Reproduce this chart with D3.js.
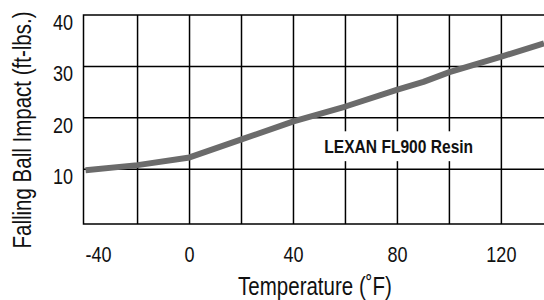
<!DOCTYPE html>
<html>
<head>
<meta charset="utf-8">
<script src="https://cdn.jsdelivr.net/npm/d3@7"></script>
<style>
  body { margin: 0; background: #fff; }
  text { font-family: "Liberation Sans", Arial, sans-serif; fill: #111; }
</style>
</head>
<body>
<script>
/*** data ***/
const temps   = [-40, -20, 0, 20, 40, 60, 80, 90, 100, 120, 136.4];   // deg F
const impacts = [9.8, 10.8, 12.3, 15.8, 19.3, 22.2, 25.5, 27.0, 28.9, 31.9, 34.5]; // ft-lbs
const xTicks = [-40, 0, 40, 80, 120];
const yTicks = [10, 20, 30, 40];
const xGrid = [-20, 0, 20, 40, 60, 80, 100, 120];
const yGrid = [10, 20, 30];
const seriesName = "LEXAN FL900 Resin";

/*** sizes ***/
const width = 544, height = 300;
const margin = { top: 15, right: 0, bottom: 76, left: 83.5 };
const squeeze = 0.82; // no narrow font installed, so squeeze Liberation Sans sideways

const x = d3.scaleLinear().domain([-40.8, 136.4]).range([margin.left, width - margin.right]);
const y = d3.scaleLinear().domain([-0.65, 40]).range([height - margin.bottom, margin.top]);

const svg = d3.select("body").append("svg")
  .attr("width", width)
  .attr("height", height);

/*** helper: condensed-looking text ***/
function label(parent, px, py, str, size, anchor, rot) {
  const g = parent.append("g")
    .attr("transform", `translate(${px},${py}) rotate(${rot || 0}) scale(${squeeze},1)`);
  return g.append("text")
    .attr("text-anchor", anchor || "middle")
    .attr("font-size", size)
    .text(str);
}

// grid lines
svg.append("g")
  .selectAll("line")
  .data(xGrid)
  .join("line")
  .attr("x1", d => x(d)).attr("x2", d => x(d))
  .attr("y1", y.range()[0]).attr("y2", y.range()[1])
  .attr("stroke", "#000").attr("stroke-width", 1.5);

svg.append("g")
  .selectAll("line")
  .data(yGrid)
  .join("line")
  .attr("x1", x.range()[0]).attr("x2", x.range()[1])
  .attr("y1", d => y(d)).attr("y2", d => y(d))
  .attr("stroke", "#000").attr("stroke-width", 1.5);

// frame (left, top, bottom)
svg.append("path")
  .attr("d", `M${x.range()[1]},${y.range()[1]}H${x.range()[0]}V${y.range()[0]}H${x.range()[1]}`)
  .attr("fill", "none")
  .attr("stroke", "#000")
  .attr("stroke-width", 1.5);

// series label with white box behind it
const labX = x(80.5), labY = y(13.2);
const lab = svg.append("g");
const labText = label(lab, labX, labY, seriesName, 19)
  .attr("font-weight", "bold");
const bb = labText.node().getBBox();
lab.insert("rect", "g")
  .attr("x", labX - bb.width * squeeze / 2 - 14)
  .attr("y", labY + bb.y - 4)
  .attr("width", bb.width * squeeze + 28)
  .attr("height", bb.height + 8)
  .attr("fill", "#fff");

// the curve
const line = d3.line()
  .x((d, i) => x(temps[i]))
  .y(d => y(d));

svg.append("path")
  .datum(impacts)
  .attr("d", line)
  .attr("fill", "none")
  .attr("stroke", "#6b6b6b")
  .attr("stroke-width", 6)
  .attr("stroke-linejoin", "round");

// x tick labels
const xt = svg.append("g");
xTicks.forEach((d, i) => label(xt, x(d), 262, d, 22, i === 0 ? "start" : "middle"));

// y tick labels
const yt = svg.append("g");
yTicks.forEach(d => label(yt, 73, y(d) + 15, d, 22, "end"));

// axis titles
label(svg, 315, 295, "Temperature (˚F)", 25);
label(svg, 31, 130, "Falling Ball Impact (ft-lbs.)", 25, "middle", -90);
</script>
</body>
</html>
